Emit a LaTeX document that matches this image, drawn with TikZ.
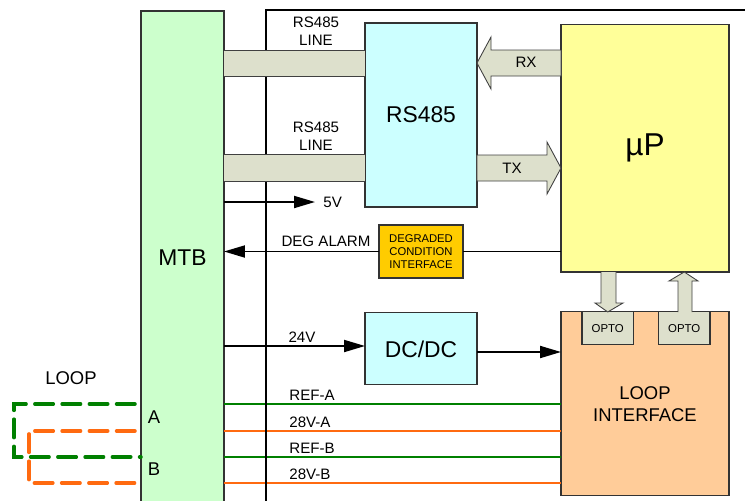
\documentclass[tikz,border=0pt]{standalone}
\usepackage{fontspec}
\setmainfont{Liberation Sans}
\usetikzlibrary{arrows.meta,positioning,calc}
\definecolor{cmtb}{HTML}{CCFFCC}
\definecolor{cchip}{HTML}{CCFFFF}
\definecolor{cmcu}{HTML}{FFFF99}
\definecolor{cloop}{HTML}{FFCC99}
\definecolor{cdeg}{HTML}{FFCC00}
\definecolor{cband}{HTML}{DDE0CC}
\definecolor{cref}{HTML}{008000}
\definecolor{cpwr}{HTML}{FF6A10}

\begin{document}
\begin{tikzpicture}[
    x=0.02cm, y=-0.02cm,
    box/.style={draw=black!80, line width=0.6pt, inner sep=0pt, outer sep=0pt, align=center},
    chip/.style={box, fill=cchip, minimum width=2.24cm, font=\fontsize{13}{15}\selectfont},
    opto/.style={box, fill=cband, minimum width=1.03cm, minimum height=0.66cm,
                 font=\fontsize{6.5}{8}\selectfont},
    lbl/.style={font=\fontsize{8.6}{10.2}\selectfont, align=center, inner sep=0pt},
    big/.style={font=\fontsize{10.5}{12.5}\selectfont, align=center, inner sep=0pt},
    arr/.style={-{Triangle[length=4.2mm,width=2.4mm]}, line width=1.1pt},
    band/.style={draw=black!75, line width=0.5pt, double=cband, double distance=0.51cm},
    fat/.style={draw=black!75, line width=0.5pt, fill=cband},
    wire/.style={line width=1.3pt},
    loopwire/.style={line width=2pt, dash pattern=on 10.5pt off 5pt, line cap=round}
]
\useasboundingbox (0,0) rectangle (745,501);

\node[box, fill=cmtb, line width=1.1pt, minimum width=1.66cm, minimum height=9.9cm,
      font=\fontsize{13}{15}\selectfont] (mtb) at (182.5,258) {MTB};
\node[chip, minimum height=3.68cm] (rs) at (421,115) {RS485};
\node[box, fill=cmcu, minimum width=3.36cm, minimum height=4.96cm,
      font=\fontsize{18}{20}\selectfont] (mcu) at (645,148) {µP};
\node[box, fill=cdeg, minimum width=1.68cm, minimum height=1.06cm,
      font=\fontsize{6.4}{7.4}\selectfont] (degr) at (421,251.5) {DEGRADED\\CONDITION\\INTERFACE};
\node[chip, minimum height=1.44cm, below=2.12cm of rs] (dcdc) {DC/DC};
\node[box, fill=cloop, minimum width=3.36cm, minimum height=3.68cm,
      font=\fontsize{10.5}{12.5}\selectfont, below=0.8cm of mcu] (loopif) {LOOP\\INTERFACE};
\node[opto, below right=0cm and 0.42cm of loopif.north west] (optoa) {OPTO};
\node[opto, right=0.5cm of optoa] (optob) {OPTO};

% loop wires into the interface
\draw[wire, cref] (mtb.east |- 0,404) -- (loopif.west |- 0,404);
\draw[wire, cpwr] (mtb.east |- 0,431) -- (loopif.west |- 0,431);
\draw[wire, cref] (mtb.east |- 0,457) -- (loopif.west |- 0,457);
\draw[wire, cpwr] (mtb.east |- 0,483) -- (loopif.west |- 0,483);

% frame
\draw[line width=1.1pt] (266,503) -- (266,10) -- (747,10);

\draw[band] (mtb.east |- 0,63.5) -- (rs.west |- 0,63.5);
\draw[band] (mtb.east |- 0,168) -- (rs.west |- 0,168);

\draw[fat] (mcu.west |- 0,50) -- (491,50) -- (491,37) -- (rs.east |- 0,63) -- (491,89)
    -- (491,76) -- (mcu.west |- 0,76) -- cycle;
\draw[fat] (rs.east |- 0,155) -- (547,155) -- (547,142) -- (mcu.west |- 0,168) -- (547,194)
    -- (547,181) -- (rs.east |- 0,181) -- cycle;
\draw[fat] (601,272) -- (601,303) -- (595,303) -- (optoa.north) -- (623,303) -- (616,303) -- (616,272);
\draw[fat] (678,312) -- (678,281) -- (669,281) -- (mcu.south -| optob.north) -- (698,281)
    -- (692,281) -- (692,312);

\coordinate (fivev) at (315,202);
\draw[arr] (mtb.east |- fivev) -- (fivev);
\draw[arr] (mtb.east |- 0,346) -- (dcdc.west |- 0,346);
\draw[arr] (dcdc.east |- 0,352) -- (loopif.west |- 0,352);
\draw[line width=1.1pt] (mcu.west |- degr.east) -- (degr.east);
\draw[arr] (degr.west) -- (degr.west -| mtb.east);

\coordinate (ga) at (135,404);
\coordinate (oa) at (135,431);
\draw[loopwire, cref] (ga) -- (14,404) -- (14,457) -- (mtb.west |- 0,457);
\draw[loopwire, cpwr] (oa) -- (29,431) -- (29,483) -- (mtb.west |- 0,483);

\node[lbl] (linea) at (316,31) {RS485\\LINE};
\node[lbl] (lineb) at (316,136) {RS485\\LINE};
\node[lbl] (rxl) at (526,62) {RX};
\node[lbl] (txl) at (512,168) {TX};
\node[lbl, anchor=west] (fivel) at (323,202) {5V};
\node[lbl] (degl) at (326,241) {DEG ALARM};
\node[lbl] (v24l) at (302,337) {24V};
\node[lbl, anchor=base west] (refal) at (289,400) {REF-A};
\node[lbl, anchor=base west] (pwral) at (289,427) {28V-A};
\node[lbl, anchor=base west] (refbl) at (289,453) {REF-B};
\node[lbl, anchor=base west] (pwrbl) at (289,479) {28V-B};
\node[big] (loopl) at (71,378) {LOOP};
\node[big] (tA) at (154,417) {A};
\node[big] (tB) at (154,469) {B};
\end{tikzpicture}
\end{document}
